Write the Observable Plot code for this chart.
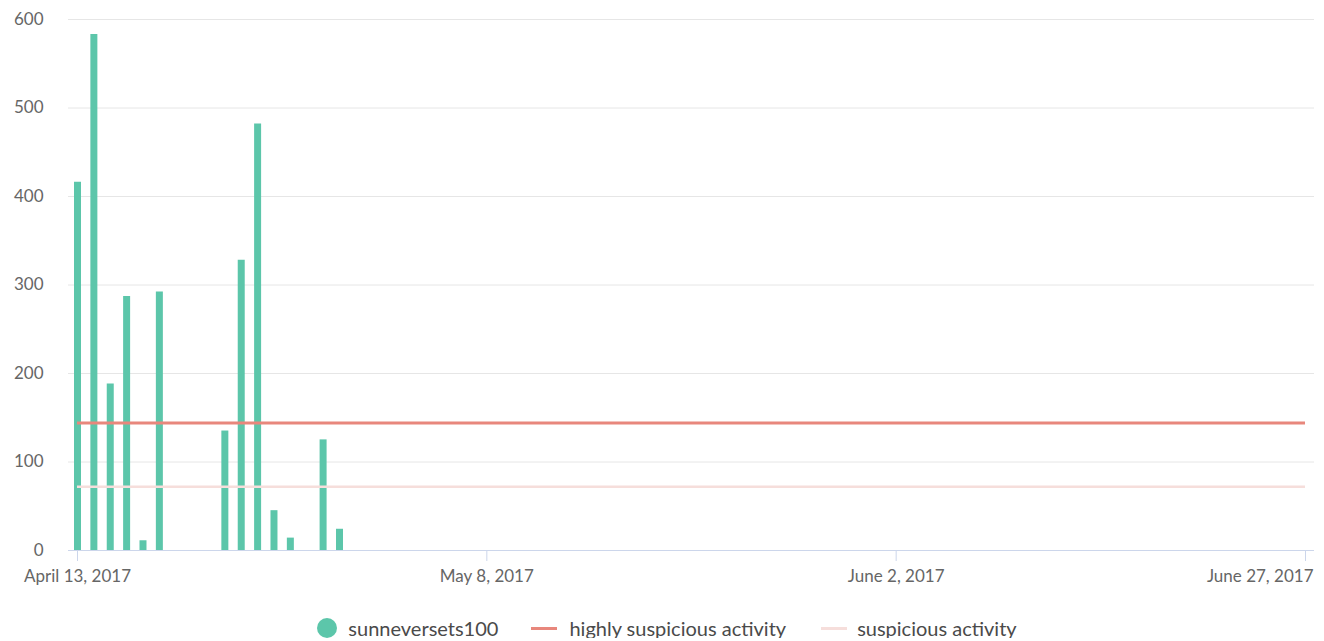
<!DOCTYPE html>
<html>
<head>
<meta charset="utf-8">
<script src="https://cdn.jsdelivr.net/npm/d3@7"></script>
<script src="https://cdn.jsdelivr.net/npm/@observablehq/plot@0.6"></script>
<style>
  body { margin: 0; background: #fff; font-family: Lato, "Open Sans", sans-serif; }
  #legend { display: flex; justify-content: center; align-items: center; margin-top: 18px; height: 20px; font-size: 20px; color: #4a4a4a; padding-left: 10px; }
  .item { display: flex; align-items: center; white-space: nowrap; }
  .dot { width: 20px; height: 20px; border-radius: 50%; margin-right: 11px; }
  .dash { width: 26px; height: 3px; margin-right: 12px; }
</style>
</head>
<body>
<div id="chart"></div>
<div id="legend"></div>
<script>
const dates = ["2017-04-13","2017-04-14","2017-04-15","2017-04-16","2017-04-17","2017-04-18",
               "2017-04-22","2017-04-23","2017-04-24","2017-04-25","2017-04-26","2017-04-28","2017-04-29"];
const counts = [416, 583, 188, 287, 11, 292, 135, 328, 482, 45, 14, 125, 24];
const highlySuspicious = 144;
const suspicious = 72;
const yTicks = [0, 100, 200, 300, 400, 500, 600];
const xTickDates = ["2017-04-13", "2017-05-08", "2017-06-02", "2017-06-27"];
const xDomainDates = ["2017-04-13", "2017-06-27"];
const seriesNames = ["sunneversets100", "highly suspicious activity", "suspicious activity"];
const colors = ["#5cc6aa", "#e8877c", "#f6dedb"];

const months = ["January","February","March","April","May","June","July","August","September","October","November","December"];
const fmt = d => `${months[d.getUTCMonth()]} ${d.getUTCDate()}, ${d.getUTCFullYear()}`;
const data = dates.map((d, i) => ({date: new Date(d), count: counts[i]}));
const xTicks = xTickDates.map(d => new Date(d));

const chart = Plot.plot({
  width: 1324,
  height: 600,
  marginTop: 19,
  marginBottom: 50,
  marginLeft: 77,
  marginRight: 19,
  style: {fontFamily: "Lato, 'Open Sans', sans-serif", fontSize: "17px", color: "#666", background: "#fff"},
  x: {type: "utc", domain: xDomainDates.map(d => new Date(d))},
  y: {domain: [0, 600]},
  marks: [
    Plot.ruleY(yTicks.slice(1), {stroke: "#e6e6e6", strokeWidth: 1, insetLeft: -9, insetRight: -9}),
    Plot.ruleX(data, {x: "date", y1: 0, y2: "count", stroke: colors[0], strokeWidth: 7}),
    Plot.ruleY([suspicious], {stroke: colors[2], strokeWidth: 2.5}),
    Plot.ruleY([highlySuspicious], {stroke: colors[1], strokeWidth: 3}),
    Plot.ruleY([0], {stroke: "#ccd6eb", strokeWidth: 1, insetLeft: -9, insetRight: -9}),
    Plot.axisY(yTicks, {tickSize: 0, tickPadding: 34, fill: "#666", label: null, fontSize: 17}),
    Plot.axisX(xTicks, {tickSize: 11, stroke: "#ccd6eb", text: null, label: null}),
    Plot.axisX(xTicks.slice(0, 3), {tickSize: 0, tickPadding: 19, tickFormat: fmt, fill: "#666", label: null, fontSize: 17}),
    Plot.axisX(xTicks.slice(3), {tickSize: 0, tickPadding: 19, tickFormat: fmt, fill: "#666", label: null, fontSize: 17, textAnchor: "end", dx: 8})
  ]
});
document.getElementById("chart").appendChild(chart);

const legend = document.getElementById("legend");
legend.innerHTML = `
  <div class="item" style="margin-right:33px"><span class="dot" style="background:${colors[0]}"></span>${seriesNames[0]}</div>
  <div class="item" style="margin-right:35px"><span class="dash" style="background:${colors[1]}"></span>${seriesNames[1]}</div>
  <div class="item"><span class="dash" style="background:${colors[2]}; margin-right:10px"></span>${seriesNames[2]}</div>`;
</script>
</body>
</html>
